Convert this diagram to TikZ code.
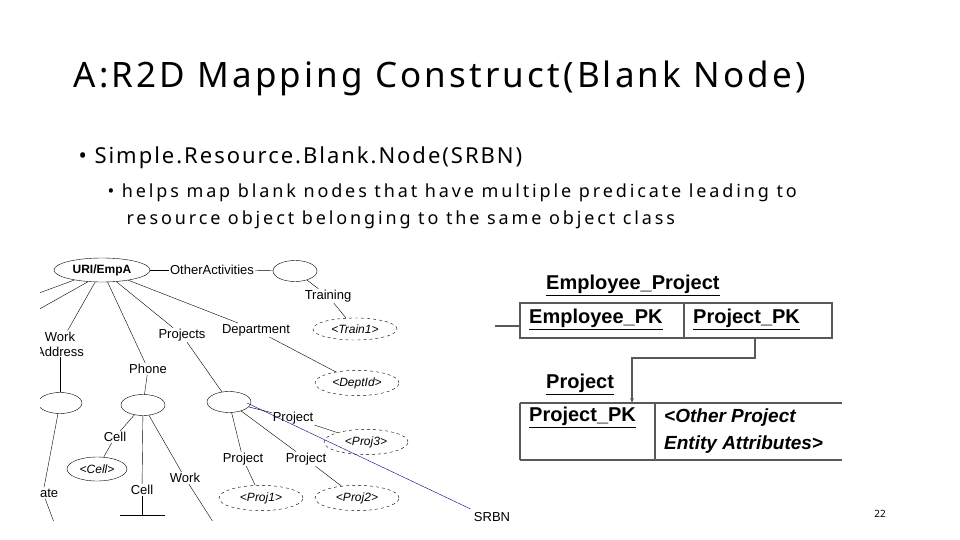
\documentclass[tikz,border=0pt]{standalone}
\usepackage{fontspec}
\setmainfont{Noto Sans}
\newfontfamily\arial{Liberation Sans}
\newfontfamily\spaced[LetterSpace=9]{Noto Sans}
\newfontfamily\wide[LetterSpace=16]{Noto Sans}
\usetikzlibrary{arrows.meta,shapes.geometric}

\begin{document}
\begin{tikzpicture}[x=1pt,y=-1pt,
    >={Stealth[length=5pt]},
    lbl/.style = {font=\arial\fontsize{13}{15}\selectfont, inner sep=1pt},
    blank/.style = {draw, ellipse, minimum width=44pt, minimum height=21pt},
    lit/.style = {draw, dashed, ellipse, minimum width=84pt, minimum height=22pt,
      font=\arial\itshape\fontsize{12}{14}\selectfont},
    tab/.style = {font=\arial\bfseries\fontsize{20}{24}\selectfont, inner sep=1pt},
    cell/.style = {draw, line width=1.2pt, gray!70!black}
  ]
  \useasboundingbox (0,0) rectangle (960,540);

  % heading and bullets
  \node[anchor=west, font=\spaced\fontsize{35}{40}\selectfont] (title) at (70,78) {A:R2D Mapping Construct(Blank Node)};
  \node[anchor=west, font=\spaced\fontsize{22}{26}\selectfont] (b1) at (75,158) {\textbullet\ Simple.Resource.Blank.Node(SRBN)};
  \node[anchor=west, font=\wide\fontsize{18}{21}\selectfont] (b2) at (104,193) {\textbullet\ helps map blank nodes that have multiple predicate leading to};
  \node[anchor=west, font=\wide\fontsize{18}{21}\selectfont] (b3) at (123,220) {resource object belonging to the same object class};
  \node[font=\fontsize{10}{12}\selectfont] (page) at (880,514) {22};

  % RDF graph
  \begin{scope}
    \clip (40,250) rectangle (460,520);
    \node[draw, ellipse, minimum width=96pt, minimum height=24pt, lbl, font=\arial\bfseries\fontsize{12}{14}\selectfont] (emp) at (102,270) {URI/EmpA};
    \node[lbl] (other) at (212,270) {OtherActivities};
    \node[blank] (act) at (295,271) {};
    \node[lbl] (train) at (328,296) {Training};
    \node[lit] (train1) at (355,329) {<Train1>};
    \node[lbl, align=center] (work) at (60,344) {Work\\Address};
    \node[lbl] (projs) at (182,335) {Projects};
    \node[lbl] (dept) at (256,330) {Department};
    \node[lit] (deptid) at (357,383) {<DeptId>};
    \node[lbl] (phone) at (148,369) {Phone};
    \node[blank] (addr) at (60,403) {};
    \node[blank] (ph) at (143,405) {};
    \node[blank] (bn) at (229,402) {};
    \node[lbl] (p3) at (293,418) {Project};
    \node[lit] (proj3) at (366,442) {<Proj3>};
    \node[lbl] (cell1) at (115,437) {Cell};
    \node[draw, ellipse, minimum width=60pt, minimum height=24pt, lbl, font=\arial\itshape\fontsize{12}{14}\selectfont] (cellv) at (97,469) {<Cell>};
    \node[lbl] (p1) at (243,459) {Project};
    \node[lbl] (p2) at (306,459) {Project};
    \node[lbl] (workph) at (185,478) {Work};
    \node[lbl] (cell2) at (142,490) {Cell};
    \node[lit] (proj1) at (261,498) {<Proj1>};
    \node[lit] (proj2) at (357,498) {<Proj2>};
    \node[lbl] (state) at (43,493) {State};
    \coordinate (cellend) at (142,515);

    \draw (emp) -- (other);
    \draw (other) -- (act);
    \draw (act) -- (train);
    \draw (train) -- (train1);
    \draw (emp.200) -- (20,300);
    \draw (emp.220) -- (20,320);
    \draw (emp) -- (work);
    \draw (work) -- (addr);
    \draw (addr) -- (state);
    \draw (state) -- (55,525);
    \draw (emp) -- (phone);
    \draw (emp) -- (projs);
    \draw (emp) -- (dept);
    \draw (dept) -- (deptid);
    \draw (phone) -- (ph);
    \draw (ph) -- (cell1);
    \draw (cell1) -- (cellv);
    \draw (ph) -- (cell2);
    \draw (cell2) -- (cellend);
    \draw (120,515) -- (165,515);
    \draw (ph) -- (workph);
    \draw (workph) -- (215,525);
    \draw (projs) -- (bn);
    \draw (bn) -- (p3);
    \draw (p3) -- (proj3);
    \draw (bn) -- (p1);
    \draw (p1) -- (proj1);
    \draw (bn) -- (p2);
    \draw (p2) -- (proj2);
  \end{scope}

  % SRBN pointer
  \node[font=\arial\fontsize{13}{15}\selectfont] (srbn) at (492,517) {SRBN};
  \draw[blue!50!black, thin] (247,403) -- (srbn.north west);

  % relational tables
  \node[tab, anchor=west] (eptitle) at (545,285) {\underline{Employee\_Project}};
  \draw[cell] (520,303) rectangle (832,338);
  \draw[cell] (684,303) -- (684,338);
  \draw[cell] (495,326) -- (520,326);
  \node[tab, anchor=west] (epk) at (528,319) {\underline{Employee\_PK}};
  \node[tab, anchor=west] (ppk) at (692,319) {\underline{Project\_PK}};
  \node[tab, anchor=west] (ptitle) at (545,384) {\underline{Project}};
  \draw[cell] (520,403) -- (842,403);
  \draw[cell] (520,460) -- (842,460);
  \draw[cell] (520,403) -- (520,460);
  \draw[cell] (655,403) -- (655,460);
  \node[tab, anchor=west] (pk) at (528,417) {\underline{Project\_PK}};
  \node[tab, anchor=west, font=\arial\bfseries\itshape\fontsize{19}{27}\selectfont, align=left] (attr) at (663,431) {<Other Project\\Entity Attributes>};
  \draw[cell, ->] (755,338) -- (755,358) -- (632,358) -- (632,403);
\end{tikzpicture}
\end{document}
